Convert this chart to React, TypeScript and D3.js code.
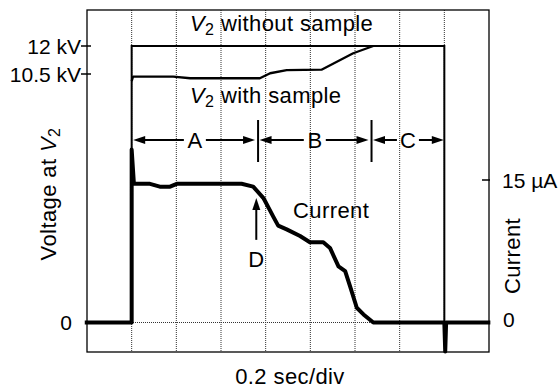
import React from "react";
import * as d3 from "d3";

// ---- data (time in divisions of 0.2 s) ----
const gridDivs = [1, 2, 3, 4, 5, 6, 7, 8];

const withoutTime = [1.0, 1.0, 8.0, 8.0];
const withoutKV = [0, 12, 12, 0];

const withTime = [1.0, 1.03, 1.93, 2.31, 3.87, 4.1, 4.47, 5.25, 5.96, 6.41];
const withKV = [10.2, 10.39, 10.39, 10.32, 10.32, 10.54, 10.71, 10.73, 11.61, 12.0];

const currentTime = [
  -0.05, 1.0, 1.0, 1.05, 1.41, 1.63, 1.86, 2.01, 3.46, 3.72, 3.95, 4.17, 4.28, 4.47,
  4.77, 4.99, 5.29, 5.44, 5.63, 5.78, 5.89, 6.04, 6.19, 6.41, 8.0, 8.02, 8.04, 9.03,
];
const currentUA = [
  0, 0, 18.2, 14.6, 14.6, 14.3, 14.3, 14.6, 14.6, 14.3, 13.1, 11.15, 10.2, 9.8,
  9.1, 8.45, 8.45, 7.85, 5.9, 5.4, 3.8, 1.55, 0.85, 0, 0, -3.05, 0, 0,
];

const voltTicks = [12, 10.5];
const voltTickLabels = ["12 kV", "10.5 kV"];
const currentTicks = [15];
const currentTickLabels = ["15 µA"];

const regionLabels = ["A", "B", "C"];
const regionBounds = [1.0, 3.83, 6.37, 8.0];

const dTime = 3.79;
const dTipUA = 13.1;
const dTailUA = 8.7;

// ---- layout ----
const W = 560;
const H = 389;
const L = 87;
const R = 489;
const T = 10;
const B = 352;
const FONT = "'Liberation Sans', Arial, Helvetica, sans-serif";
const FS = 21;
const FA = 22;
const LS = 0.4;

export default function App() {
  const x = d3.scaleLinear().domain([0, 9]).range([L, R]);
  const yV = d3.scaleLinear().domain([0, 10.5, 12]).range([322.5, 74, 46]);
  const yI = d3.scaleLinear().domain([0, 15]).range([322.5, 180]);

  const lineV = d3
    .line<[number, number]>()
    .x((d) => x(d[0]))
    .y((d) => yV(d[1]));
  const lineI = d3
    .line<[number, number]>()
    .x((d) => x(d[0]))
    .y((d) => yI(d[1]));

  const withoutPts = withoutTime.map((t, i) => [t, withoutKV[i]] as [number, number]);
  const withPts = withTime.map((t, i) => [t, withKV[i]] as [number, number]);
  const curPts = currentTime.map((t, i) => [t, currentUA[i]] as [number, number]);

  const arrowY = 140;
  const head = (tipX: number, tipY: number, dir: number, horiz = true) => {
    const len = 12;
    const hw = 4;
    if (horiz) {
      return `M${tipX},${tipY} L${tipX - dir * len},${tipY - hw} L${tipX - dir * len},${tipY + hw} Z`;
    }
    return `M${tipX},${tipY} L${tipX - hw},${tipY - dir * len} L${tipX + hw},${tipY - dir * len} Z`;
  };

  const dx = x(dTime);
  const dTip = yI(dTipUA);
  const dTail = yI(dTailUA);

  return (
    <svg
      width={W}
      height={H}
      style={{ position: "absolute", left: 0, top: 0, background: "#fff" }}
      fontFamily={FONT}
      fontSize={FS}
    >
      <rect x={0} y={0} width={W} height={H} fill="#fff" />
      {/* grid */}
      {gridDivs.map((g) => (
        <line
          key={g}
          x1={x(g)}
          x2={x(g)}
          y1={T}
          y2={B}
          stroke="#333"
          strokeWidth={1}
          strokeDasharray="1,1"
        />
      ))}
      <line x1={L} x2={R} y1={yV(0)} y2={yV(0)} stroke="#333" strokeWidth={1} strokeDasharray="1,1" />
      {/* frame */}
      <rect x={L} y={T} width={R - L} height={B - T} fill="none" stroke="#000" strokeWidth={1.3} />

      {/* left ticks */}
      {voltTicks.map((v, i) => (
        <g key={v}>
          <line x1={L - 6} x2={L + 4} y1={yV(v)} y2={yV(v)} stroke="#000" strokeWidth={1.5} />
          <text x={L - 6} y={yV(v)} textAnchor="end" dominantBaseline="central">
            {voltTickLabels[i]}
          </text>
        </g>
      ))}
      <text x={72} y={yV(0)} textAnchor="end" dominantBaseline="central">0</text>

      {/* right ticks */}
      {currentTicks.map((v, i) => (
        <g key={v}>
          <line x1={R - 7} x2={R + 1} y1={yI(v)} y2={yI(v)} stroke="#000" strokeWidth={1.5} />
          <text x={502} y={yI(v)} dominantBaseline="central">
            {currentTickLabels[i]}
          </text>
        </g>
      ))}
      <text x={503} y={yI(0) - 3} dominantBaseline="central">0</text>

      {/* series */}
      <path d={lineV(withoutPts) || ""} fill="none" stroke="#000" strokeWidth={2} />
      <path d={lineV(withPts) || ""} fill="none" stroke="#000" strokeWidth={2.3} strokeLinejoin="round" />
      <path d={lineI(curPts) || ""} fill="none" stroke="#000" strokeWidth={4} strokeLinejoin="round" />

      {/* region arrows */}
      {regionLabels.map((lab, i) => {
        const x0 = x(regionBounds[i]) + 1.5;
        const x1 = x(regionBounds[i + 1]) - (i < 2 ? 3 : 0.5);
        const cx = (x(regionBounds[i]) + x(regionBounds[i + 1])) / 2;
        return (
          <g key={lab}>
            <line x1={x0 + 8} x2={cx - 11} y1={arrowY} y2={arrowY} stroke="#000" strokeWidth={2} />
            <line x1={cx + 11} x2={x1 - 8} y1={arrowY} y2={arrowY} stroke="#000" strokeWidth={2} />
            <path d={head(x0, arrowY, -1)} fill="#000" />
            <path d={head(x1, arrowY, 1)} fill="#000" />
            <text x={cx} y={arrowY} textAnchor="middle" dominantBaseline="central" fontSize={FA}>
              {lab}
            </text>
          </g>
        );
      })}
      {regionBounds.slice(1, 3).map((b) => (
        <line key={b} x1={x(b)} x2={x(b)} y1={120} y2={162} stroke="#000" strokeWidth={2} />
      ))}

      {/* D arrow */}
      <line x1={dx} x2={dx} y1={dTail} y2={dTip + 8} stroke="#000" strokeWidth={2} />
      <path d={head(dx, dTip, -1, false)} fill="#000" />
      <text x={dx} y={dTail + 27} textAnchor="middle" fontSize={FA}>D</text>

      {/* annotations */}
      <text x={190} y={31} letterSpacing={LS} fontSize={FA}>
        <tspan fontStyle="italic">V</tspan>
        <tspan fontSize={16} dy={4}>2</tspan>
        <tspan dy={-4}> without sample</tspan>
      </text>
      <text x={190} y={103} letterSpacing={LS} fontSize={FA}>
        <tspan fontStyle="italic">V</tspan>
        <tspan fontSize={16} dy={4}>2</tspan>
        <tspan dy={-4}> with sample</tspan>
      </text>
      <text x={293} y={218} letterSpacing={LS} fontSize={FA}>Current</text>

      {/* axis titles */}
      <text transform="translate(56,194) rotate(-90)" textAnchor="middle" letterSpacing={LS} fontSize={FA}>
        Voltage at <tspan fontStyle="italic">V</tspan>
        <tspan fontSize={16} dy={4}>2</tspan>
      </text>
      <text transform="translate(520,256) rotate(-90)" textAnchor="middle" letterSpacing={LS} fontSize={FA}>
        Current
      </text>
      <text x={290} y={384} textAnchor="middle" letterSpacing={LS} fontSize={FA}>0.2 sec/div</text>
    </svg>
  );
}
